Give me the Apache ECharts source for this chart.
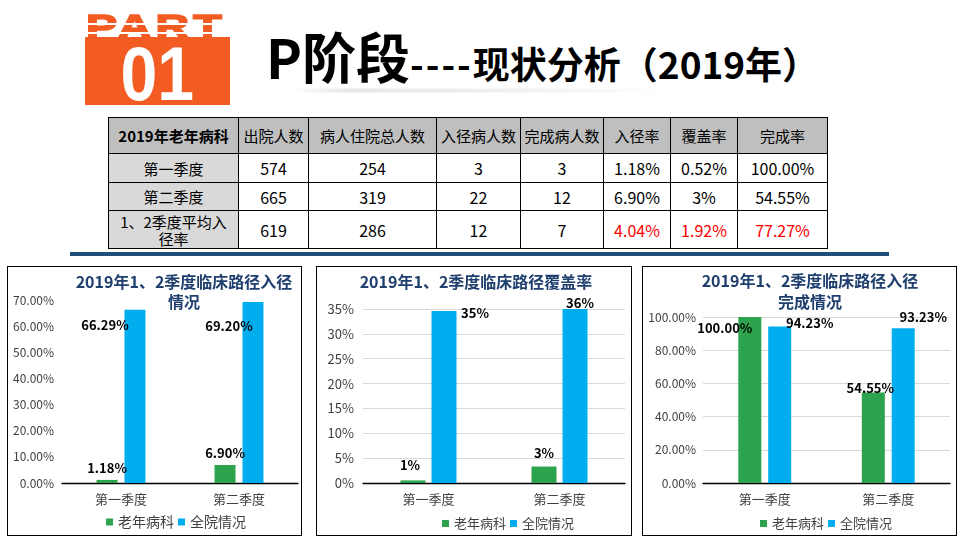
<!DOCTYPE html>
<html>
<head>
<meta charset="utf-8">
<script src="https://cdn.jsdelivr.net/npm/echarts@6/dist/echarts.min.js"></script>
<style>
html,body{margin:0;padding:0;width:960px;height:540px;background:#fff;overflow:hidden;}
body{font-family:"Noto Sans CJK SC","Noto Sans",sans-serif;}
#page{position:relative;width:960px;height:540px;}
.abs{position:absolute;}
#partText{left:85px;top:9px;width:145px;height:28px;overflow:hidden;}
#partText span{display:inline-block;font-family:"Liberation Sans",Arial,sans-serif;font-weight:bold;font-size:34px;line-height:34px;color:#F25C22;-webkit-text-stroke:1.6px #F25C22;letter-spacing:3px;transform:scaleX(1.37);transform-origin:left top;white-space:nowrap;margin-left:1px;}
.stripe{left:85px;width:145px;height:2px;background:#fff;}
#block{left:85px;top:37px;width:145px;height:68px;background:#F25C22;}
#num{left:85px;top:36px;width:145px;height:76px;text-align:center;font-family:"Liberation Sans",Arial,sans-serif;font-weight:bold;font-size:76px;line-height:76px;color:#fff;}
#num span{display:inline-block;transform:scaleX(0.87);}
#title{left:266px;top:29px;white-space:nowrap;font-size:54px;line-height:54px;font-weight:bold;color:#000;}
#title .big{font-size:54px;}
#title .small{font-size:37px;}
#title .dash{letter-spacing:2px;}
#shadow{left:290px;top:89px;width:380px;height:3px;background:linear-gradient(to right,rgba(0,0,0,0),rgba(0,0,0,0.13) 15%,rgba(0,0,0,0.08) 60%,rgba(0,0,0,0));filter:blur(1px);}
#tbl{left:108px;top:117px;border-collapse:collapse;table-layout:fixed;width:719px;}
#tbl td{border:1px solid #000;text-align:center;vertical-align:middle;padding:0 1px;font-size:16px;color:#000;line-height:18px;overflow:hidden;}
#tbl tr.hdr td{background:#BFBFBF;font-size:15px;}
#tbl tr.hdr td.first{font-weight:bold;}
#tbl td.lab{background:#D9D9D9;font-size:15px;line-height:17px;padding:0 8px;}
#tbl td.red{color:#FF0000;}
#rule{left:70px;top:252px;width:819px;height:4px;background:#1F4E79;}
.box{border:1.5px solid #000;box-sizing:border-box;}
</style>
</head>
<body>
<div id="page">
  <div id="partText" class="abs"><span>PART</span></div>
  <div class="abs stripe" style="top:23px"></div>
  <div class="abs stripe" style="top:32px"></div>
  <div id="block" class="abs"></div>
  <div id="num" class="abs"><span>01</span></div>
  <div id="title" class="abs"><span class="big">P阶段</span><span class="small"><span class="dash">----</span>现状分析（2019年）</span></div>
  <div id="shadow" class="abs"></div>
  <table id="tbl" class="abs"></table>
  <div id="rule" class="abs"></div>

  <div class="abs box" style="left:7px;top:266px;width:295px;height:270px"></div>
  <div class="abs box" style="left:316px;top:266px;width:316px;height:270px"></div>
  <div class="abs box" style="left:642px;top:266px;width:315px;height:270px"></div>
  <div id="c1" class="abs" style="left:7px;top:266px;width:295px;height:270px"></div>
  <div id="c2" class="abs" style="left:316px;top:266px;width:316px;height:270px"></div>
  <div id="c3" class="abs" style="left:642px;top:266px;width:315px;height:270px"></div>
</div>
<script>
// ---------- data ----------
const categories = ['第一季度', '第二季度'];
const seriesNames = ['老年病科', '全院情况'];

const entryRateDept = [1.18, 6.90];
const entryRateHosp = [66.29, 69.20];
const coverageDept = [0.52, 3.31];
const coverageHosp = [34.6, 35.5];
const completionDept = [100.00, 54.55];
const completionHosp = [94.23, 93.23];

const chartTitles = ['2019年1、2季度临床路径入径\n情况', '2019年1、2季度临床路径覆盖率', '2019年1、2季度临床路径入径\n完成情况'];

const tableHeader = ['2019年老年病科', '出院人数', '病人住院总人数', '入径病人数', '完成病人数', '入径率', '覆盖率', '完成率'];
const tableRowLabels = ['第一季度', '第二季度', '1、2季度平均入径率'];
const dischargeCounts = [574, 665, 619];
const inpatientTotals = [254, 319, 286];
const pathwayPatients = [3, 22, 12];
const completedPatients = [3, 12, 7];
const entryRates = ['1.18%', '6.90%', '4.04%'];
const coverageRates = ['0.52%', '3%', '1.92%'];
const completionRates = ['100.00%', '54.55%', '77.27%'];

// ---------- table ----------
(function buildTable() {
  const widths = [130, 70, 128, 84, 83, 67, 67, 90];
  const heights = [36, 29, 28, 38];
  const tbl = document.getElementById('tbl');
  let html = '<colgroup>' + widths.map(w => '<col style="width:' + w + 'px">').join('') + '</colgroup>';
  html += '<tr class="hdr" style="height:' + heights[0] + 'px">' +
    tableHeader.map((h, i) => '<td' + (i === 0 ? ' class="first"' : '') + '>' + h + '</td>').join('') + '</tr>';
  const cols = [dischargeCounts, inpatientTotals, pathwayPatients, completedPatients, entryRates, coverageRates, completionRates];
  tableRowLabels.forEach((lab, r) => {
    html += '<tr style="height:' + heights[r + 1] + 'px"><td class="lab">' + lab + '</td>';
    cols.forEach((c, ci) => {
      const red = (r === 2 && ci >= 4) ? ' class="red"' : '';
      html += '<td' + red + '>' + c[r] + '</td>';
    });
    html += '</tr>';
  });
  tbl.innerHTML = html;
})();

// ---------- charts ----------
const FONT = '"Noto Sans CJK SC","Noto Sans",sans-serif';
const GREEN = '#2CA34C';
const BLUE = '#00AEEF';

function buildChart(id, cfg) {
  const chart = echarts.init(document.getElementById(id), null, {renderer: 'canvas'});
  const mkSeries = (name, values, color, offsets) => ({
    name: name,
    type: 'bar',
    barWidth: cfg.barWidth,
    barGap: cfg.barGap,
    itemStyle: {color: color},
    emphasis: {disabled: true},
    label: {
      show: true,
      position: 'top',
      distance: 5,
      fontSize: 13,
      fontWeight: 'bold',
      color: '#000',
      fontFamily: FONT,
      formatter: p => cfg.labelFmt(p.value)
    },
    data: values.map((v, i) => ({value: v, label: {offset: offsets[i]}}))
  });
  chart.setOption({
    animation: false,
    textStyle: {fontFamily: FONT},
    title: {
      text: cfg.title,
      left: cfg.titleX,
      top: cfg.titleTop,
      textAlign: 'center',
      padding: 0,
      textStyle: {fontSize: 16, fontWeight: 'bold', color: '#1F3F6E', lineHeight: cfg.titleLH, fontFamily: FONT}
    },
    legend: {
      data: seriesNames,
      left: cfg.legendLeft,
      top: cfg.legendTop,
      orient: 'horizontal',
      icon: 'rect',
      itemWidth: 7,
      itemHeight: 7,
      itemGap: 4,
      padding: 0,
      textStyle: {fontSize: cfg.legendFont, color: '#404040', fontFamily: FONT}
    },
    grid: {left: cfg.grid[0], right: cfg.grid[1], top: cfg.grid[2], bottom: cfg.grid[3], containLabel: false, outerBoundsMode: 'none'},
    xAxis: {
      type: 'category',
      data: categories,
      axisLine: {show: true, lineStyle: {color: '#000', width: 1.3}},
      axisTick: {show: false},
      splitLine: {show: false},
      axisLabel: {fontSize: 13, color: '#404040', margin: 10, fontFamily: FONT}
    },
    yAxis: {
      type: 'value',
      min: 0,
      max: cfg.max,
      interval: cfg.interval,
      axisLine: {show: false},
      axisTick: {show: false},
      splitLine: {show: cfg.split, lineStyle: {color: '#D9D9D9', width: 1, type: 'solid'}},
      axisLabel: {fontSize: cfg.yFont, color: '#404040', margin: cfg.yMargin, formatter: cfg.axisFmt, fontFamily: FONT}
    },
    series: [
      mkSeries(seriesNames[0], cfg.dept, GREEN, cfg.deptOffsets),
      mkSeries(seriesNames[1], cfg.hosp, BLUE, cfg.hospOffsets)
    ]
  });
}

buildChart('c1', {
  title: chartTitles[0], titleX: 177, titleTop: 6, titleLH: 20,
  legendLeft: 99, legendTop: 249, legendFont: 14,
  grid: [55, 4, 34, 53],
  max: 70, interval: 10, split: false, yFont: 12, yMargin: 8,
  axisFmt: v => v.toFixed(2) + '%',
  labelFmt: v => v.toFixed(2) + '%',
  barWidth: 21, barGap: '33%',
  dept: entryRateDept, hosp: entryRateHosp,
  deptOffsets: [[0, 0], [0, 0]],
  hospOffsets: [[-30, 27], [-24, 35]]
});

buildChart('c2', {
  title: chartTitles[1], titleX: 160, titleTop: 6, titleLH: 20,
  legendLeft: 126, legendTop: 251, legendFont: 13,
  grid: [47, 7, 43, 53],
  max: 35, interval: 5, split: true, yFont: 13, yMargin: 9,
  axisFmt: v => v + '%',
  labelFmt: v => Math.round(v) + '%',
  barWidth: 25, barGap: '24%',
  dept: coverageDept, hosp: coverageHosp,
  deptOffsets: [[-3, -4], [0, -2]],
  hospOffsets: [[31, 14], [5, 6]]
});

buildChart('c3', {
  title: chartTitles[2], titleX: 168, titleTop: 4, titleLH: 21,
  legendLeft: 118, legendTop: 251, legendFont: 13,
  grid: [61, 7, 51, 53],
  max: 100, interval: 20, split: true, yFont: 12, yMargin: 7,
  axisFmt: v => v.toFixed(2) + '%',
  labelFmt: v => v.toFixed(2) + '%',
  barWidth: 23, barGap: '30%',
  dept: completionDept, hosp: completionHosp,
  deptOffsets: [[-25, 23], [-3, 7]],
  hospOffsets: [[30, 8], [20, 0]]
});
</script>
</body>
</html>
